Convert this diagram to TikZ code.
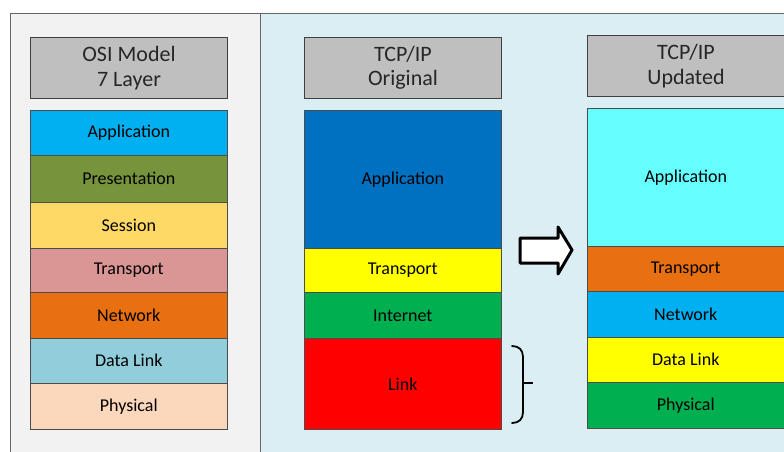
\documentclass[tikz,border=0pt]{standalone}
\usepackage{fontspec}
\setmainfont{Carlito}
\begin{document}
\begin{tikzpicture}[x=1pt,y=-1pt,
  panel/.style={draw=black!60,line width=0.8pt},
  hdr/.style={draw=black!75,line width=1pt,fill=hdrgray,anchor=north west,inner sep=0pt,
    minimum width=197pt,minimum height=61pt,align=center,font=\fontsize{22}{24.5}\selectfont,text=black!85},
  layer/.style={draw=black!70,line width=0.6pt,anchor=north west,inner sep=0pt,
    minimum width=197pt,font=\fontsize{18}{20}\selectfont,text=black}]
\definecolor{hdrgray}{HTML}{BFBFBF}
\definecolor{lgray}{HTML}{F2F2F2}
\definecolor{lblue}{HTML}{DAEEF3}
\useasboundingbox (0,0) rectangle (784,452);
\clip (0,0) rectangle (784,452);
\fill[white] (0,0) rectangle (784,452);
% panels
\draw[panel,fill=lgray] (10,13) rectangle (260,460);
\draw[panel,fill=lblue] (260,13) rectangle (790,460);
% OSI
\node[hdr] (osih) at (30,37) {OSI Model\\7 Layer};
\node[layer,fill={rgb,255:red,0;green,176;blue,240},minimum height=45pt] (oapp) at (30,110) {Application};
\node[layer,fill={rgb,255:red,119;green,147;blue,60},minimum height=47pt] (opre) at (30,155) {Presentation};
\node[layer,fill={rgb,255:red,255;green,217;blue,102},minimum height=46pt] (oses) at (30,202) {Session};
\node[layer,fill={rgb,255:red,217;green,150;blue,148},minimum height=44pt] (otra) at (30,248) {Transport};
\node[layer,fill={rgb,255:red,232;green,112;blue,16},minimum height=46pt] (onet) at (30,292) {Network};
\node[layer,fill={rgb,255:red,146;green,205;blue,220},minimum height=45pt] (odl) at (30,338) {Data Link};
\node[layer,fill={rgb,255:red,251;green,215;blue,187},minimum height=46pt] (ophy) at (30,383) {Physical};
% TCP/IP original
\node[hdr] (tch) at (304,37) {TCP/IP\\Original};
\node[layer,fill={rgb,255:red,0;green,112;blue,192},minimum height=138pt] (tapp) at (304,110) {Application};
\node[layer,fill={rgb,255:red,255;green,255;blue,0},minimum height=44pt] (ttra) at (304,248) {Transport};
\node[layer,fill={rgb,255:red,0;green,176;blue,80},minimum height=46pt] (tint) at (304,292) {Internet};
\node[layer,fill={rgb,255:red,255;green,0;blue,0},minimum height=91pt] (tlnk) at (304,338) {Link};
% TCP/IP updated
\node[hdr] (tuh) at (587,35) {TCP/IP\\Updated};
\node[layer,fill={rgb,255:red,102;green,255;blue,255},minimum height=138pt] (uapp) at (587,108) {Application};
\node[layer,fill={rgb,255:red,232;green,112;blue,16},minimum height=45pt] (utra) at (587,246) {Transport};
\node[layer,fill={rgb,255:red,0;green,176;blue,240},minimum height=46pt] (unet) at (587,291) {Network};
\node[layer,fill={rgb,255:red,255;green,255;blue,0},minimum height=45pt] (udl) at (587,337) {Data Link};
\node[layer,fill={rgb,255:red,0;green,176;blue,80},minimum height=46pt] (uphy) at (587,382) {Physical};
% block arrow
\draw[line width=3pt,line join=round,fill=white]
  (520,238) -- (558,238) -- (558,227) -- (572,250) -- (558,274) -- (558,263) -- (520,263) -- cycle;
% brace
\draw[line width=1.8pt,line cap=round]
  (512,346) .. controls (519,346) and (523,350) .. (523,357) -- (523,412)
  .. controls (523,419) and (519,423) .. (512,423);
\draw[line width=1.8pt] (523,383) -- (533,383);
\end{tikzpicture}
\end{document}
